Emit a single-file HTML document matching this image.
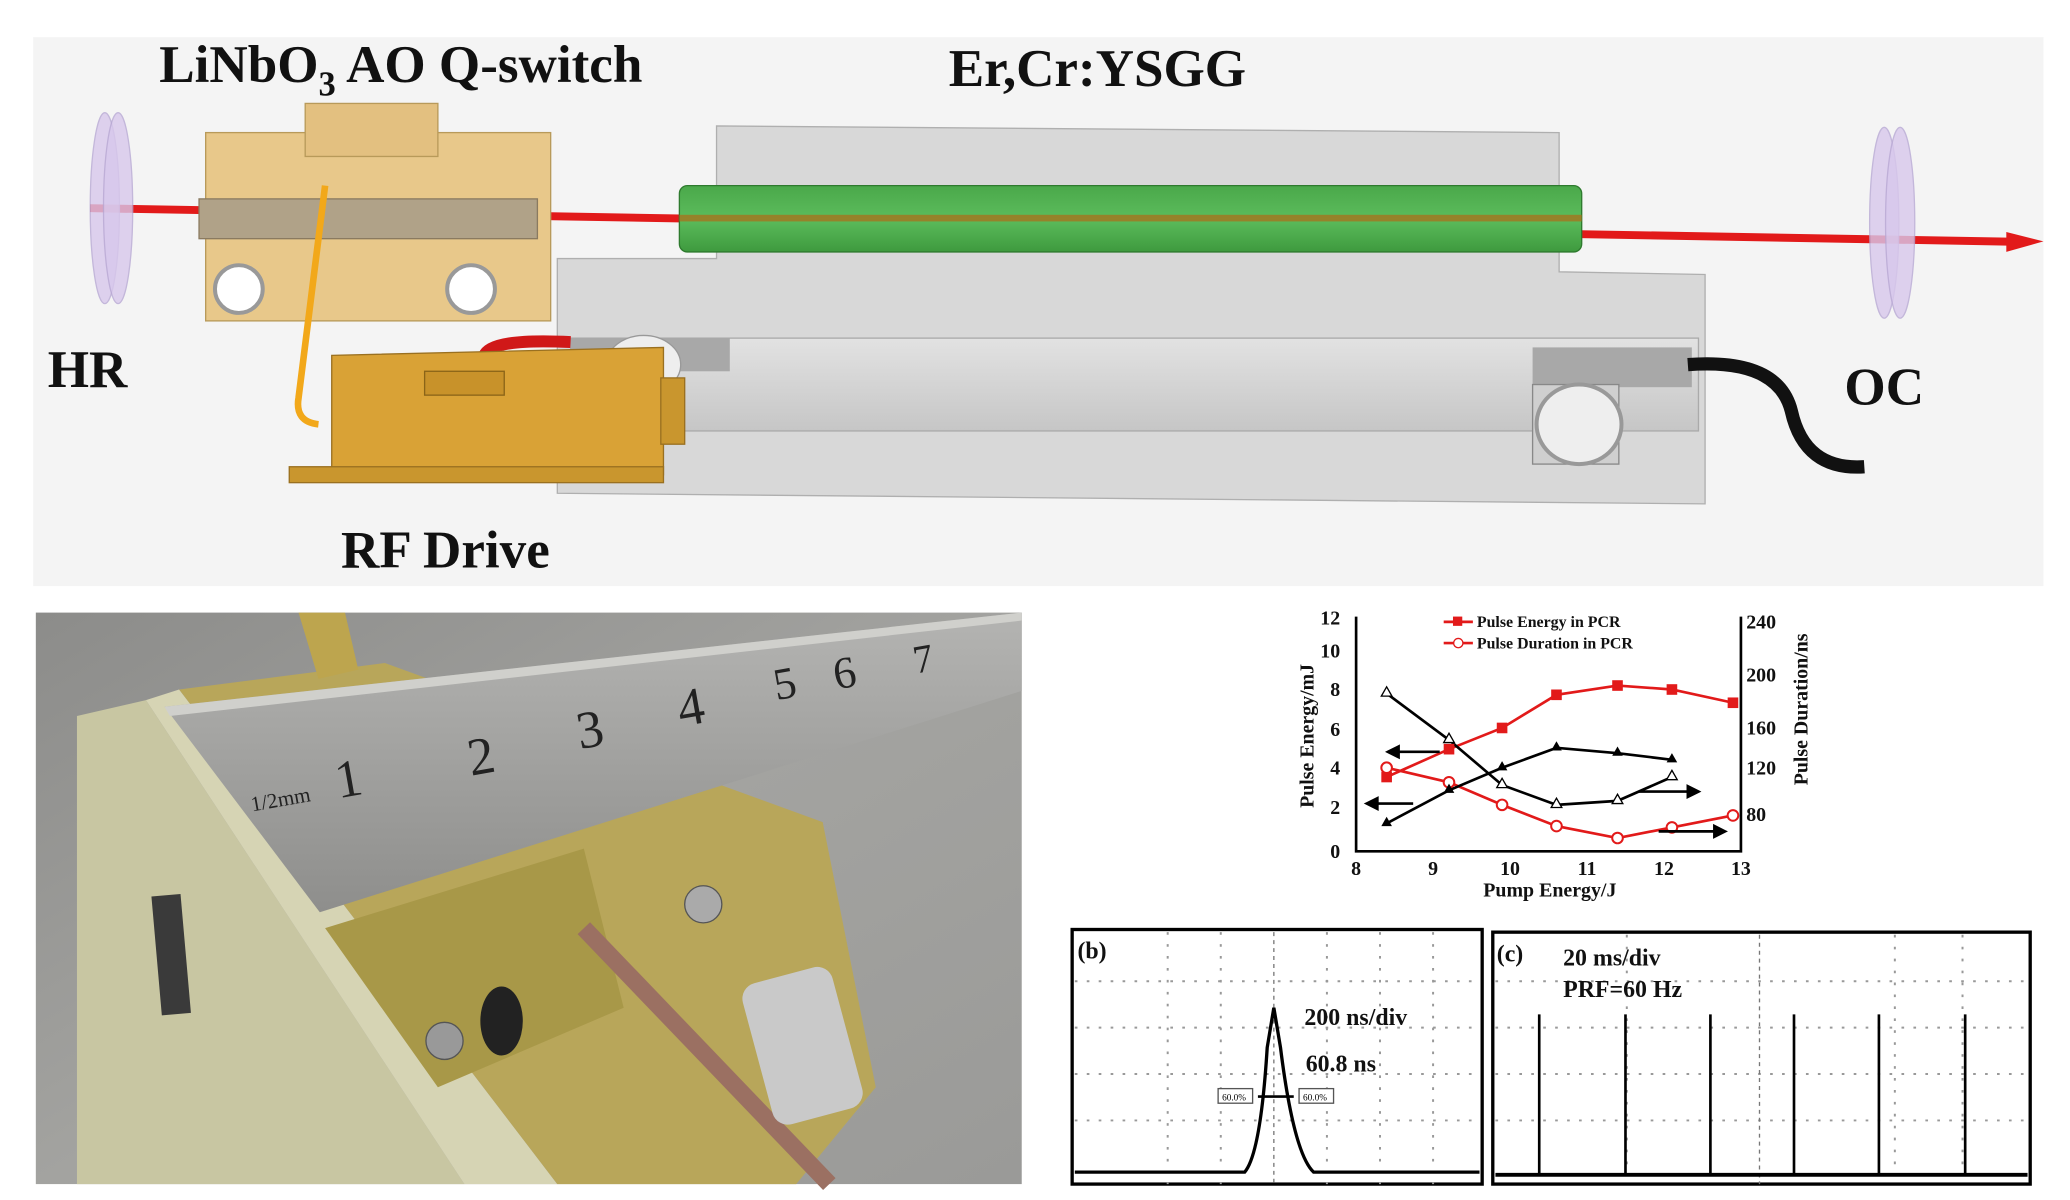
<!DOCTYPE html>
<html><head><meta charset="utf-8"><style>html,body{margin:0;padding:0;background:#fff;}svg{display:block}</style></head>
<body>
<svg width="2070" height="1200" viewBox="0 0 1560 905" preserveAspectRatio="none" xmlns="http://www.w3.org/2000/svg" font-family="Liberation Serif, serif">
<defs>
<linearGradient id="rod" x1="0" y1="0" x2="0" y2="1"><stop offset="0" stop-color="#e2e2e2"/><stop offset=".5" stop-color="#d4d4d4"/><stop offset="1" stop-color="#c6c6c6"/></linearGradient>
<linearGradient id="grn" x1="0" y1="0" x2="0" y2="1"><stop offset="0" stop-color="#4aa84a"/><stop offset=".5" stop-color="#5cbc5c"/><stop offset="1" stop-color="#3e9a3e"/></linearGradient>
<linearGradient id="ph" x1="0" y1="0" x2="1" y2="1"><stop offset="0" stop-color="#8c8c8a"/><stop offset=".5" stop-color="#a3a3a0"/><stop offset="1" stop-color="#9a9a98"/></linearGradient>
<linearGradient id="rul" x1="0" y1="0" x2="0" y2="1"><stop offset="0" stop-color="#b4b4b2"/><stop offset="1" stop-color="#8e8e8c"/></linearGradient>
</defs>
<rect x="25" y="28" width="1515" height="414" fill="#f4f4f4"/>
<rect x="68" y="154" width="1445" height="6" fill="#e21a1a" transform="rotate(1 68 157)"/>
<polygon points="1512,175 1540,182 1512,190" fill="#e21a1a"/>
<ellipse cx="79" cy="157" rx="11" ry="72" fill="#d8c8ec" stroke="#b8a8d4" opacity=".8"/>
<ellipse cx="89" cy="157" rx="11" ry="72" fill="#d8c8ec" stroke="#b8a8d4" opacity=".8"/>
<ellipse cx="1420" cy="168" rx="11" ry="72" fill="#d8c8ec" stroke="#b8a8d4" opacity=".8"/>
<ellipse cx="1432" cy="168" rx="11" ry="72" fill="#d8c8ec" stroke="#b8a8d4" opacity=".8"/>
<rect x="155" y="100" width="260" height="142" fill="#e8c88a" stroke="#b89a5a"/>
<rect x="230" y="78" width="100" height="40" fill="#e3c080" stroke="#b89a5a"/>
<rect x="150" y="150" width="255" height="30" fill="#b0a288" stroke="#8a7a60"/>
<circle cx="180" cy="218" r="18" fill="#fff" stroke="#999" stroke-width="3"/>
<circle cx="355" cy="218" r="18" fill="#fff" stroke="#999" stroke-width="3"/>
<path d="M245 140 L225 300 Q222 318 240 320" fill="none" stroke="#f2a81a" stroke-width="5"/>
<polygon points="540,95 1175,100 1175,205 1285,207 1285,380 420,372 420,195 540,195" fill="#d6d6d6" stroke="#a8a8a8" opacity=".9"/>
<rect x="430" y="255" width="850" height="70" fill="url(#rod)" stroke="#aaa"/>
<rect x="1155" y="262" width="120" height="30" fill="#a8a8a8"/>
<rect x="430" y="255" width="120" height="25" fill="#a8a8a8"/>
<ellipse cx="485" cy="275" rx="28" ry="22" fill="#eee" stroke="#999"/>
<rect x="1155" y="290" width="65" height="60" fill="#cfcfcf" stroke="#888"/>
<ellipse cx="1190" cy="320" rx="32" ry="30" fill="#eee" stroke="#999" stroke-width="3"/>
<rect x="512" y="140" width="680" height="50" rx="6" fill="url(#grn)" stroke="#2e7a2e"/>
<rect x="512" y="162" width="680" height="5" fill="#a5741e" opacity=".8"/>
<path d="M1272 275 Q1340 270 1350 310 Q1360 355 1405 352" fill="none" stroke="#111" stroke-width="10"/>
<path d="M365 268 Q370 255 430 258" fill="none" stroke="#d01818" stroke-width="9"/>
<polygon points="250,268 500,262 500,358 250,360" fill="#d9a236" stroke="#9a7020"/>
<rect x="320" y="280" width="60" height="18" fill="#c8922a" stroke="#8a6418"/>
<rect x="218" y="352" width="282" height="12" fill="#c9962e" stroke="#9a7020"/>
<rect x="498" y="285" width="18" height="50" fill="#c9962e" stroke="#9a7020"/>
<g font-weight="bold" fill="#111">
<text x="120" y="62" font-size="40">LiNbO<tspan font-size="26" dy="10">3</tspan><tspan dy="-10"> AO Q-switch</tspan></text>
<text x="715" y="65" font-size="40">Er,Cr:YSGG</text>
<text x="36" y="292" font-size="40">HR</text>
<text x="1390" y="305" font-size="40">OC</text>
<text x="257" y="428" font-size="40">RF Drive</text>
</g>
<!-- photo -->
<rect x="27" y="462" width="743" height="431" fill="url(#ph)"/>
<polygon points="58,540 110,528 350,893 58,893" fill="#c8c6a2"/>
<polygon points="110,528 135,520 420,893 350,893" fill="#d6d4b4"/>
<polygon points="135,520 290,500 620,620 660,820 600,893 420,893" fill="#b8a65a"/>
<polygon points="245,700 440,640 470,760 330,820" fill="#a89848"/>
<polygon points="225,462 260,462 270,505 240,512" fill="#bda54e"/>
<polygon points="124,533 770,462 770,521 241,688" fill="url(#rul)"/>
<polygon points="124,533 770,462 770,468 128,540" fill="#d0d0cc"/>
<rect x="118" y="675" width="22" height="90" fill="#3a3a3a" transform="rotate(-5 129 720)"/>
<ellipse cx="378" cy="770" rx="16" ry="26" fill="#222"/>
<circle cx="530" cy="682" r="14" fill="#aaa" stroke="#555"/>
<circle cx="335" cy="785" r="14" fill="#999" stroke="#555"/>
<path d="M440 700 L625 893" stroke="#9b7062" stroke-width="13"/>
<rect x="570" y="735" width="70" height="110" rx="12" fill="#c9c9c9" transform="rotate(-15 600 790)"/>
<g fill="#222" font-family="Liberation Serif,serif">
<text x="255" y="602" transform="rotate(-10 255 602)" font-size="40">1</text><text x="355" y="585" transform="rotate(-10 355 585)" font-size="40">2</text>
<text x="437" y="565" transform="rotate(-10 437 565)" font-size="40">3</text><text x="513" y="548" transform="rotate(-10 513 548)" font-size="40">4</text>
<text x="585" y="528" transform="rotate(-10 585 528)" font-size="34">5</text><text x="630" y="520" transform="rotate(-10 630 520)" font-size="34">6</text>
<text x="690" y="508" transform="rotate(-10 690 508)" font-size="30">7</text>
<text x="190" y="612" transform="rotate(-10 190 612)" font-size="16">1/2mm</text>
</g>
<!-- chart -->
<g stroke="#000" stroke-width="2" fill="none"><polyline points="1022,465 1022,642 1312,642 1312,465"/></g>
<g font-size="15" font-weight="bold" fill="#111">
<text x="1010" y="471" text-anchor="end">12</text><text x="1010" y="496" text-anchor="end">10</text><text x="1010" y="525" text-anchor="end">8</text>
<text x="1010" y="555" text-anchor="end">6</text><text x="1010" y="584" text-anchor="end">4</text><text x="1010" y="614" text-anchor="end">2</text><text x="1010" y="647" text-anchor="end">0</text>
<text x="1316" y="474">240</text><text x="1316" y="514">200</text><text x="1316" y="554">160</text><text x="1316" y="584">120</text><text x="1316" y="619">80</text>
<text x="1022" y="660" text-anchor="middle">8</text><text x="1080" y="660" text-anchor="middle">9</text><text x="1138" y="660" text-anchor="middle">10</text>
<text x="1196" y="660" text-anchor="middle">11</text><text x="1254" y="660" text-anchor="middle">12</text><text x="1312" y="660" text-anchor="middle">13</text>
<text x="1168" y="676" text-anchor="middle">Pump Energy/J</text>
<text transform="translate(990 555) rotate(-90)" text-anchor="middle">Pulse Energy/mJ</text>
<text transform="translate(1362 535) rotate(-90)" text-anchor="middle">Pulse Duration/ns</text>
<text x="1113" y="473" font-size="12">Pulse Energy in PCR</text>
<text x="1113" y="489" font-size="12">Pulse Duration in PCR</text>
</g>
<line x1="1088" y1="469" x2="1110" y2="469" stroke="#e21a1a" stroke-width="2"/><rect x="1095" y="465" width="7" height="7" fill="#e21a1a"/>
<line x1="1088" y1="485" x2="1110" y2="485" stroke="#e21a1a" stroke-width="2"/><circle cx="1099" cy="485" r="3.5" fill="#fff" stroke="#e21a1a"/>
<g fill="none" stroke-width="2">
<polyline stroke="#e21a1a" points="1045,586 1092,565 1132,549 1173,524 1219,517 1260,520 1306,530"/>
<polyline stroke="#e21a1a" points="1045,579 1092,590 1132,607 1173,623 1219,632 1260,624 1306,615"/>
<polyline stroke="#000" points="1045,621 1092,596 1132,579 1173,564 1219,568 1260,573"/>
<polyline stroke="#000" points="1045,523 1092,558 1132,592 1173,607 1219,604 1260,586"/>
</g>
<g fill="#e21a1a"><rect x="1041" y="582" width="8" height="8"/><rect x="1088" y="561" width="8" height="8"/><rect x="1128" y="545" width="8" height="8"/><rect x="1169" y="520" width="8" height="8"/><rect x="1215" y="513" width="8" height="8"/><rect x="1256" y="516" width="8" height="8"/><rect x="1302" y="526" width="8" height="8"/></g>
<g fill="#fff" stroke="#e21a1a" stroke-width="1.5"><circle cx="1045" cy="579" r="4"/><circle cx="1092" cy="590" r="4"/><circle cx="1132" cy="607" r="4"/><circle cx="1173" cy="623" r="4"/><circle cx="1219" cy="632" r="4"/><circle cx="1260" cy="624" r="4"/><circle cx="1306" cy="615" r="4"/></g>
<g fill="#000"><path d="M1045 616l4 7h-8z"/><path d="M1092 591l4 7h-8z"/><path d="M1132 574l4 7h-8z"/><path d="M1173 559l4 7h-8z"/><path d="M1219 563l4 7h-8z"/><path d="M1260 568l4 7h-8z"/></g>
<g fill="#fff" stroke="#000"><path d="M1045 518l4 7h-8z"/><path d="M1092 553l4 7h-8z"/><path d="M1132 587l4 7h-8z"/><path d="M1173 602l4 7h-8z"/><path d="M1219 599l4 7h-8z"/><path d="M1260 581l4 7h-8z"/></g>
<g stroke="#000" stroke-width="2" fill="#000">
<line x1="1050" y1="567" x2="1085" y2="567"/><polygon points="1046,567 1054,563 1054,571"/>
<line x1="1035" y1="606" x2="1065" y2="606"/><polygon points="1030,606 1038,602 1038,610"/>
<line x1="1235" y1="597" x2="1275" y2="597"/><polygon points="1280,597 1272,593 1272,601"/>
<line x1="1250" y1="627" x2="1295" y2="627"/><polygon points="1300,627 1292,623 1292,631"/>
</g>
<!-- scope b -->
<rect x="808" y="701" width="309" height="192" fill="#fff" stroke="#000" stroke-width="2.5"/>
<g stroke="#999" stroke-dasharray="2 7" stroke-width="1.5">
<line x1="880" y1="703" x2="880" y2="893"/><line x1="920" y1="703" x2="920" y2="893"/><line x1="1000" y1="703" x2="1000" y2="893"/><line x1="1040" y1="703" x2="1040" y2="893"/><line x1="1080" y1="703" x2="1080" y2="893"/>
<line x1="810" y1="740" x2="1115" y2="740"/><line x1="810" y1="775" x2="1115" y2="775"/><line x1="810" y1="810" x2="1115" y2="810"/><line x1="810" y1="845" x2="1115" y2="845"/>
</g>
<line x1="960" y1="703" x2="960" y2="893" stroke="#777" stroke-dasharray="3 3"/>
<path d="M810 884 L938 884 Q950 870 955 790 L960 760 L965 790 Q975 870 990 884 L1115 884" fill="none" stroke="#000" stroke-width="2.5"/>
<line x1="948" y1="827" x2="975" y2="827" stroke="#000" stroke-width="2"/>
<rect x="918" y="821" width="26" height="11" fill="#fff" stroke="#555"/><rect x="979" y="821" width="26" height="11" fill="#fff" stroke="#555"/>
<text x="921" y="830" font-size="7">60.0%</text><text x="982" y="830" font-size="7">60.0%</text>
<g font-weight="bold" fill="#111" font-size="18">
<text x="812" y="723">(b)</text><text x="983" y="773">200 ns/div</text><text x="984" y="808">60.8 ns</text>
</g>
<!-- scope c -->
<rect x="1125" y="703" width="405" height="190" fill="#fff" stroke="#000" stroke-width="2.5"/>
<g stroke="#999" stroke-dasharray="2 7" stroke-width="1.5">
<line x1="1226" y1="705" x2="1226" y2="893"/><line x1="1428" y1="705" x2="1428" y2="893"/><line x1="1479" y1="705" x2="1479" y2="893"/>
<line x1="1127" y1="740" x2="1528" y2="740"/><line x1="1127" y1="775" x2="1528" y2="775"/><line x1="1127" y1="810" x2="1528" y2="810"/><line x1="1127" y1="845" x2="1528" y2="845"/>
</g>
<line x1="1326" y1="705" x2="1326" y2="893" stroke="#777" stroke-dasharray="3 3"/>
<g stroke="#000" stroke-width="2"><line x1="1160" y1="765" x2="1160" y2="886"/><line x1="1225" y1="765" x2="1225" y2="886"/><line x1="1289" y1="765" x2="1289" y2="886"/><line x1="1352" y1="765" x2="1352" y2="886"/><line x1="1416" y1="765" x2="1416" y2="886"/><line x1="1481" y1="765" x2="1481" y2="886"/></g>
<line x1="1127" y1="886" x2="1528" y2="886" stroke="#000" stroke-width="3"/>
<g font-weight="bold" fill="#111" font-size="18">
<text x="1128" y="725">(c)</text><text x="1178" y="728">20 ms/div</text><text x="1178" y="752">PRF=60 Hz</text>
</g>
</svg>
</body></html>
